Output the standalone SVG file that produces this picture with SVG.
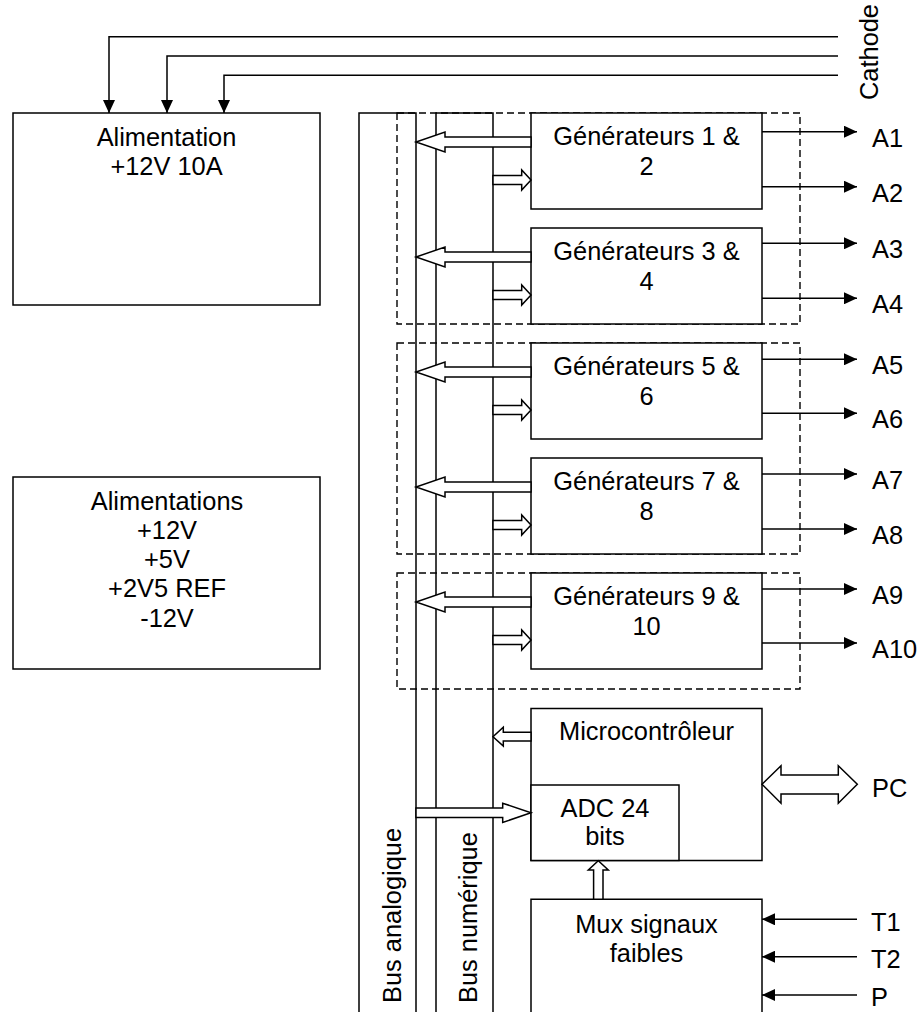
<svg xmlns="http://www.w3.org/2000/svg" width="920" height="1012" viewBox="0 0 920 1012">
<style>
text{font-family:"Liberation Sans",Arial,Helvetica,sans-serif;font-size:25.4px;fill:#000}
.c{text-anchor:middle}
.box{fill:#fff;stroke:#000;stroke-width:1.5}
.ln{fill:none;stroke:#000;stroke-width:1.5}
.dash{fill:none;stroke:#000;stroke-width:1.4;stroke-dasharray:7 4}
.big{fill:#fff;stroke:#000;stroke-width:1.5;stroke-linejoin:miter}
.thin{fill:none;stroke:#000;stroke-width:1.5;marker-end:url(#ah)}
</style>
<defs>
<marker id="ah" markerUnits="userSpaceOnUse" markerWidth="14" markerHeight="12" refX="13" refY="6" orient="auto">
<path d="M0,0 L13,6 L0,12 z" fill="#000"/>
</marker>
</defs>
<rect width="920" height="1012" fill="#fff"/>

<g id="groups">
<rect class="dash" x="397" y="113" width="403" height="211"/>
<rect class="dash" x="397" y="343" width="403" height="211"/>
<rect class="dash" x="397" y="573" width="403" height="116"/>
</g>

<g id="bus-analogique">
<path class="ln" d="M359,1015 V113 H416 V1015"/>
<text transform="translate(400.5,1003) rotate(-90)">Bus analogique</text>
</g>
<g id="bus-numerique">
<path class="ln" d="M436,1015 V113 H493 V1015"/>
<text transform="translate(476.5,1003) rotate(-90)">Bus numérique</text>
</g>

<g id="alim1">
<rect class="box" x="13" y="113" width="307" height="192"/>
<text class="c" x="166.5" y="145.5">Alimentation</text>
<text class="c" x="166.5" y="175">+12V 10A</text>
</g>

<g id="alim2">
<rect class="box" x="13" y="477" width="307" height="192"/>
<text class="c" x="167" y="510">Alimentations</text>
<text class="c" x="167" y="539">+12V</text>
<text class="c" x="167" y="568.3">+5V</text>
<text class="c" x="167" y="597.3">+2V5 REF</text>
<text class="c" x="167" y="626.7">-12V</text>
</g>

<g id="gen12">
<rect class="box" x="531" y="113" width="231" height="96"/>
<text class="c" x="646.5" y="145">Générateurs 1 &amp;</text>
<text class="c" x="646.5" y="175">2</text>
</g>
<g id="gen34">
<rect class="box" x="531" y="228" width="231" height="96"/>
<text class="c" x="646.5" y="260">Générateurs 3 &amp;</text>
<text class="c" x="646.5" y="290">4</text>
</g>
<g id="gen56">
<rect class="box" x="531" y="343" width="231" height="96"/>
<text class="c" x="646.5" y="375">Générateurs 5 &amp;</text>
<text class="c" x="646.5" y="405">6</text>
</g>
<g id="gen78">
<rect class="box" x="531" y="458" width="231" height="96"/>
<text class="c" x="646.5" y="490">Générateurs 7 &amp;</text>
<text class="c" x="646.5" y="520">8</text>
</g>
<g id="gen910">
<rect class="box" x="531" y="573" width="231" height="96"/>
<text class="c" x="646.5" y="605">Générateurs 9 &amp;</text>
<text class="c" x="646.5" y="635">10</text>
</g>

<g id="micro">
<rect class="box" x="531" y="708.5" width="231" height="152"/>
<text class="c" x="646.5" y="740">Microcontrôleur</text>
</g>
<g id="adc">
<rect class="box" x="531" y="785" width="148" height="75.5"/>
<text class="c" x="605" y="816.7">ADC 24</text>
<text class="c" x="605" y="845">bits</text>
</g>
<g id="mux">
<path class="box" d="M531,1015 V899.3 H762 V1015"/>
<text class="c" x="646.5" y="932.7">Mux signaux</text>
<text class="c" x="646.5" y="961.7">faibles</text>
</g>

<g id="connectors">
<path class="thin" d="M838,36.7 H109 V113"/>
<path class="thin" d="M838,56 H167 V113"/>
<path class="thin" d="M838,75.3 H224 V113"/>
<path class="thin" d="M762,131.7 H857"/>
<path class="thin" d="M762,186.7 H857"/>
<path class="thin" d="M762,243.3 H857"/>
<path class="thin" d="M762,298.3 H857"/>
<path class="thin" d="M762,359.3 H857"/>
<path class="thin" d="M762,413.3 H857"/>
<path class="thin" d="M762,474 H857"/>
<path class="thin" d="M762,529 H857"/>
<path class="thin" d="M762,589 H857"/>
<path class="thin" d="M762,643 H857"/>
<path class="thin" d="M857,919.3 H762"/>
<path class="thin" d="M857,956.7 H762"/>
<path class="thin" d="M857,995 H762"/>
<path class="big" d="M531,137 H445 V132 L416,142 L445,152 V147 H531 Z"/>
<path class="big" d="M531,252 H445 V247 L416,257 L445,267 V262 H531 Z"/>
<path class="big" d="M531,367 H445 V362 L416,372 L445,382 V377 H531 Z"/>
<path class="big" d="M531,482 H445 V477 L416,487 L445,497 V492 H531 Z"/>
<path class="big" d="M531,597 H445 V592 L416,602 L445,612 V607 H531 Z"/>
<path class="big" d="M493,175.5 H521.7 V170 L531,180 L521.7,190 V184.5 H493 Z"/>
<path class="big" d="M493,290.5 H521.7 V285 L531,295 L521.7,305 V299.5 H493 Z"/>
<path class="big" d="M493,405.5 H521.7 V400 L531,410 L521.7,420 V414.5 H493 Z"/>
<path class="big" d="M493,520.5 H521.7 V515 L531,525 L521.7,535 V529.5 H493 Z"/>
<path class="big" d="M493,635.5 H521.7 V630 L531,640 L521.7,650 V644.5 H493 Z"/>
<path class="big" d="M531,732.3 H503.3 V727.3 L493,736.7 L503.3,746 V741 H531 Z"/>
<path class="big" d="M416,808 H502.7 V803.2 L531,812.7 L502.7,822.5 V817.5 H416 Z"/>
<path class="big" d="M593.6,899.3 V870 H588.3 L598.3,860.7 L608.3,870 H603 V899.3 Z"/>
<path class="big" d="M762,784.3 L781,765.7 V775 H838.3 V765.7 L857.3,784.3 L838.3,803.3 V794 H781 V803.3 Z"/>
</g>

<g id="labels">
<text transform="translate(877.5,100) rotate(-90)">Cathode</text>
<text x="872" y="146.7">A1</text>
<text x="872" y="201.7">A2</text>
<text x="872" y="258.3">A3</text>
<text x="872" y="313.3">A4</text>
<text x="872" y="374.3">A5</text>
<text x="872" y="428.3">A6</text>
<text x="872" y="489">A7</text>
<text x="872" y="544">A8</text>
<text x="872" y="604">A9</text>
<text x="872" y="658">A10</text>
<text x="872" y="796.7">PC</text>
<text x="871" y="930.7">T1</text>
<text x="871" y="968.3">T2</text>
<text x="871" y="1006">P</text>
</g>
</svg>
